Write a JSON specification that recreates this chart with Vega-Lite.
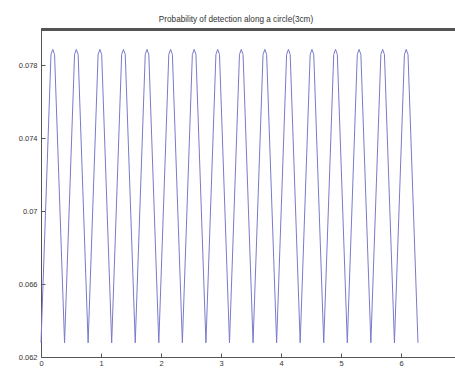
{
  "$schema": "https://vega.github.io/schema/vega-lite/v6.json",
  "width": 414,
  "height": 328,
  "autosize": {"type": "none"},
  "padding": {"left": 41, "top": 29, "right": 0, "bottom": 12},
  "background": "white",
  "title": {"text": "Probability of detection along a circle(3cm)", "fontSize": 8.2, "fontWeight": "normal", "color": "#333", "font": "Liberation Sans", "offset": 5, "frame": "group", "dx": -12},
  "config": {
    "view": {"stroke": null},
    "axis": {"labelFontSize": 7.5, "labelColor": "#333", "labelFont": "Liberation Sans", "domainColor": "#555", "tickColor": "#555", "grid": false, "title": null, "labelOverlap": false}
  },
  "data": {"values": [
    {"t": 0, "p": 0.06278},
    {"t": 0.1663, "p": 0.0786}, {"t": 0.1963, "p": 0.07888}, {"t": 0.2263, "p": 0.0786},
    {"t": 0.3927, "p": 0.06278},
    {"t": 0.5590, "p": 0.0786}, {"t": 0.5890, "p": 0.07888}, {"t": 0.6190, "p": 0.0786},
    {"t": 0.7854, "p": 0.06278},
    {"t": 0.9517, "p": 0.0786}, {"t": 0.9817, "p": 0.07888}, {"t": 1.0117, "p": 0.0786},
    {"t": 1.1781, "p": 0.06278},
    {"t": 1.3444, "p": 0.0786}, {"t": 1.3744, "p": 0.07888}, {"t": 1.4044, "p": 0.0786},
    {"t": 1.5708, "p": 0.06278},
    {"t": 1.7371, "p": 0.0786}, {"t": 1.7671, "p": 0.07888}, {"t": 1.7971, "p": 0.0786},
    {"t": 1.9635, "p": 0.06278},
    {"t": 2.1298, "p": 0.0786}, {"t": 2.1598, "p": 0.07888}, {"t": 2.1898, "p": 0.0786},
    {"t": 2.3562, "p": 0.06278},
    {"t": 2.5225, "p": 0.0786}, {"t": 2.5525, "p": 0.07888}, {"t": 2.5825, "p": 0.0786},
    {"t": 2.7489, "p": 0.06278},
    {"t": 2.9152, "p": 0.0786}, {"t": 2.9452, "p": 0.07888}, {"t": 2.9752, "p": 0.0786},
    {"t": 3.1416, "p": 0.06278},
    {"t": 3.3079, "p": 0.0786}, {"t": 3.3379, "p": 0.07888}, {"t": 3.3679, "p": 0.0786},
    {"t": 3.5343, "p": 0.06278},
    {"t": 3.7006, "p": 0.0786}, {"t": 3.7306, "p": 0.07888}, {"t": 3.7606, "p": 0.0786},
    {"t": 3.9270, "p": 0.06278},
    {"t": 4.0933, "p": 0.0786}, {"t": 4.1233, "p": 0.07888}, {"t": 4.1533, "p": 0.0786},
    {"t": 4.3197, "p": 0.06278},
    {"t": 4.4860, "p": 0.0786}, {"t": 4.5160, "p": 0.07888}, {"t": 4.5460, "p": 0.0786},
    {"t": 4.7124, "p": 0.06278},
    {"t": 4.8787, "p": 0.0786}, {"t": 4.9087, "p": 0.07888}, {"t": 4.9387, "p": 0.0786},
    {"t": 5.1051, "p": 0.06278},
    {"t": 5.2714, "p": 0.0786}, {"t": 5.3014, "p": 0.07888}, {"t": 5.3314, "p": 0.0786},
    {"t": 5.4978, "p": 0.06278},
    {"t": 5.6641, "p": 0.0786}, {"t": 5.6941, "p": 0.07888}, {"t": 5.7241, "p": 0.0786},
    {"t": 5.8905, "p": 0.06278},
    {"t": 6.0568, "p": 0.0786}, {"t": 6.0868, "p": 0.07888}, {"t": 6.1168, "p": 0.0786},
    {"t": 6.2832, "p": 0.06278}
  ]},
  "layer": [
    {
      "mark": {"type": "line", "color": "#7a7acc", "strokeWidth": 1, "interpolate": "linear"},
      "encoding": {
        "x": {"field": "t", "type": "quantitative", "scale": {"domain": [0, 6.9], "nice": false, "zero": false},
              "axis": {"orient": "bottom", "values": [0, 1, 2, 3, 4, 5, 6], "format": "d", "tickSize": -4, "labelPadding": 6, "labelFlush": false}},
        "y": {"field": "p", "type": "quantitative", "scale": {"domain": [0.062, 0.08], "nice": false, "zero": false},
              "axis": {"orient": "left", "values": [0.062, 0.064, 0.066, 0.068, 0.07, 0.072, 0.074, 0.076, 0.078, 0.08], "format": ".3~f", "tickSize": -4, "labelPadding": 8, "labelFlush": false}}
      }
    },
    {
      "mark": {"type": "rule", "color": "#555", "strokeWidth": 1.5, "yOffset": 0.5},
      "encoding": {
        "x": {"datum": 0, "type": "quantitative"},
        "x2": {"datum": 6.9},
        "y": {"datum": 0.08, "type": "quantitative"}
      }
    }
  ]
}
